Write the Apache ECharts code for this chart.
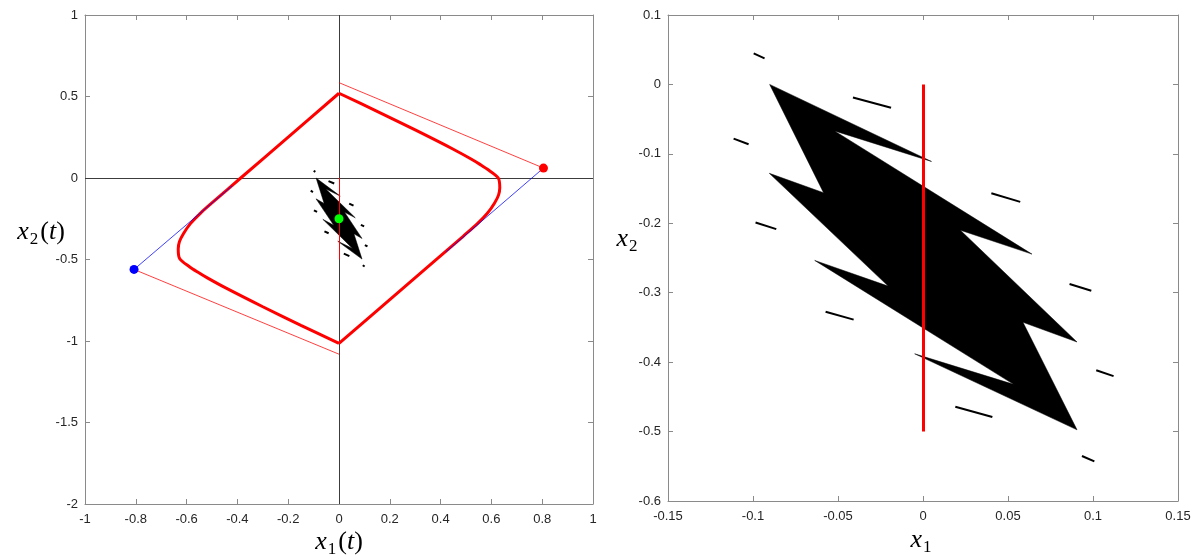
<!DOCTYPE html>
<html>
<head>
<meta charset="utf-8">
<script src="https://cdn.jsdelivr.net/npm/echarts@6/dist/echarts.min.js"></script>
<style>
html,body{margin:0;padding:0;background:#fff;}
#chart{width:1199px;height:560px;}
</style>
</head>
<body>
<div id="chart"></div>
<script>
// ---------- tick labels ----------
const leftXTicks = ['-1','-0.8','-0.6','-0.4','-0.2','0','0.2','0.4','0.6','0.8','1'];
const leftYTicks = ['-2','-1.5','-1','-0.5','0','0.5','1'];
const rightXTicks = ['-0.15','-0.1','-0.05','0','0.05','0.1','0.15'];
const rightYTicks = ['-0.6','-0.5','-0.4','-0.3','-0.2','-0.1','0','0.1'];

// ---------- left panel data ----------
// closed red trajectory, split at its two sharp vertices (top and bottom)
const redCurveLeft = [
  [0,0.52],[-0.2,0.251],[-0.387,0],[-0.49,-0.139],[-0.545,-0.215],[-0.585,-0.28],
  [-0.612,-0.34],[-0.628,-0.39],[-0.633,-0.435],[-0.627,-0.495],[-0.59,-0.5425],
  [-0.555,-0.5785],[-0.52,-0.6115],[-0.45,-0.6715],[-0.3,-0.79],[-0.15,-0.904],[0,-1.015]
];
const redCurveRight = [
  [0,-1.015],[0.2,-0.746],[0.387,-0.495],[0.49,-0.356],[0.545,-0.28],[0.585,-0.215],
  [0.612,-0.155],[0.628,-0.105],[0.633,-0.06],[0.627,0],[0.59,0.0475],
  [0.555,0.0835],[0.52,0.1165],[0.45,0.1765],[0.3,0.295],[0.15,0.409],[0,0.52]
];
// thin red tangent segments
const thinRedSegs = [
  [[0,0.585],[0.805,0.061]],
  [[-0.807,-0.561],[0,-1.081]]
];
// thin blue tangent segments
const thinBlueSegs = [
  [[-0.807,-0.561],[-0.42,-0.047]],
  [[0.805,0.061],[0.42,-0.455]]
];
// coordinate axes drawn through the origin
const originAxes = [
  [[0,-2],[0,1]],
  [[-1,0],[1,0]]
];
const greenPoint = [[0,-0.25]];
const redPoint = [[0.805,0.061]];
const bluePoint = [[-0.807,-0.561]];

// ---------- attractor (shared by both panels) ----------
const attractorPoly = [
  [-0.0902,0],[0.005,-0.111],[-0.052,-0.067],[0.0641,-0.2444],[0.022,-0.21],
  [0.0906,-0.371],[0.0588,-0.3426],[0.0906,-0.4975],[-0.0049,-0.388],
  [0.0533,-0.432],[-0.0637,-0.2535],[-0.0205,-0.2905],[-0.0904,-0.128],[-0.0585,-0.156]
];
const attractorSatellites = [
  [[-0.0996,0.0446],[-0.0932,0.0374]],
  [[-0.0412,-0.0187],[-0.0188,-0.0335]],
  [[-0.1114,-0.078],[-0.1026,-0.0862]],
  [[0.0402,-0.1567],[0.0572,-0.1692]],
  [[-0.0985,-0.1988],[-0.0863,-0.2084]],
  [[0.0862,-0.2875],[0.099,-0.2971]],
  [[-0.0573,-0.3273],[-0.0408,-0.3388]],
  [[0.1019,-0.4116],[0.1121,-0.4202]],
  [[0.019,-0.4643],[0.0408,-0.4791]],
  [[0.0935,-0.5352],[0.1008,-0.5429]]
];
const switchLine = [[0,0],[0,-0.5]];

// ---------- chart ----------
const chart = echarts.init(document.getElementById('chart'), null, {renderer:'canvas'});
const BOX = '#8a8a8a';
const TXT = '#262626';
const FONT = '"Liberation Sans", Arial, Helvetica, sans-serif';
const SERIF = '"Liberation Serif", "DejaVu Serif", serif';

function mkAxis(dim, grid, pos, min, max, interval, labels) {
  const show = (pos === 'bottom' || pos === 'left');
  return {
    type:'value', gridIndex:grid, position:pos, min:min, max:max, interval:interval,
    axisLine:{show:true, onZero:false, lineStyle:{color:BOX, width:1}},
    axisTick:{show:true, inside:true, length:5, lineStyle:{color:BOX, width:1}},
    splitLine:{show:false},
    axisLabel:{
      show:show, margin: dim==='x' ? 9 : 7, color:TXT, fontSize:13, fontFamily:FONT,
      showMinLabel:true, showMaxLabel:true,
      formatter: v => labels[Math.round((v - min) / interval)]
    }
  };
}

function segData(segs){ return segs.map(s => ({coords:s})); }

function polyRender(poly){
  return function(params, api){
    if (params.dataIndex !== 0) return null;
    return {
      type:'polygon',
      shape:{points: poly.map(p => api.coord(p))},
      style:{fill:'#000', stroke:'#000', lineWidth:0.5}
    };
  };
}

function rich(){
  return {
    i:{fontFamily:SERIF, fontStyle:'italic', fontSize:26, lineHeight:32, color:'#1a1a1a', verticalAlign:'middle'},
    n:{fontFamily:SERIF, fontSize:26, lineHeight:32, color:'#1a1a1a', verticalAlign:'middle'},
    s:{fontFamily:SERIF, fontSize:17, lineHeight:19, color:'#1a1a1a', verticalAlign:'bottom', padding:[0,2,0,1]}
  };
}

const curveStyle = {color:'#ff0000', width:3};

const option = {
  animation:false,
  backgroundColor:'#fff',
  grid:[
    {left:85, top:15, width:508, height:489},
    {left:668, top:15, width:510, height:486}
  ],
  xAxis:[
    mkAxis('x',0,'bottom',-1,1,0.2,leftXTicks),
    mkAxis('x',0,'top',-1,1,0.2,leftXTicks),
    mkAxis('x',1,'bottom',-0.15,0.15,0.05,rightXTicks),
    mkAxis('x',1,'top',-0.15,0.15,0.05,rightXTicks)
  ],
  yAxis:[
    mkAxis('y',0,'left',-2,1,0.5,leftYTicks),
    mkAxis('y',0,'right',-2,1,0.5,leftYTicks),
    mkAxis('y',1,'left',-0.6,0.1,0.1,rightYTicks),
    mkAxis('y',1,'right',-0.6,0.1,0.1,rightYTicks)
  ],
  graphic:[
    {type:'text', x:339, y:542, style:{text:'{i|x}{s|1}{n|(}{i|t}{n|)}', rich:rich(), align:'center', verticalAlign:'middle'}},
    {type:'text', x:41, y:232, style:{text:'{i|x}{s|2}{n|(}{i|t}{n|)}', rich:rich(), align:'center', verticalAlign:'middle'}},
    {type:'text', x:922, y:540, style:{text:'{i|x}{s|1}', rich:rich(), align:'center', verticalAlign:'middle'}},
    {type:'text', x:628, y:239, style:{text:'{i|x}{s|2}', rich:rich(), align:'center', verticalAlign:'middle'}}
  ],
  series:[
    // ----- left panel -----
    {type:'lines', coordinateSystem:'cartesian2d', xAxisIndex:0, yAxisIndex:0, silent:true,
     data:segData(originAxes), lineStyle:{color:'#3c3c3c', width:1, opacity:1}},
    {type:'line', xAxisIndex:0, yAxisIndex:0, data:redCurveLeft, showSymbol:false, symbol:'none',
     smooth:0.3, lineStyle:curveStyle, z:3},
    {type:'line', xAxisIndex:0, yAxisIndex:0, data:redCurveRight, showSymbol:false, symbol:'none',
     smooth:0.3, lineStyle:curveStyle, z:3},
    {type:'lines', coordinateSystem:'cartesian2d', xAxisIndex:0, yAxisIndex:0,
     data:segData(thinBlueSegs), lineStyle:{color:'#0000ff', width:1, opacity:0.75}, z:4},
    {type:'lines', coordinateSystem:'cartesian2d', xAxisIndex:0, yAxisIndex:0,
     data:segData(thinRedSegs), lineStyle:{color:'#ff0000', width:1, opacity:0.75}, z:4},
    {type:'custom', xAxisIndex:0, yAxisIndex:0, data:attractorPoly, renderItem:polyRender(attractorPoly), z:5},
    {type:'lines', coordinateSystem:'cartesian2d', xAxisIndex:0, yAxisIndex:0,
     data:segData(attractorSatellites), lineStyle:{color:'#000', width:2, opacity:1}, z:5},
    {type:'lines', coordinateSystem:'cartesian2d', xAxisIndex:0, yAxisIndex:0,
     data:segData([switchLine]), lineStyle:{color:'#ff0000', width:1, opacity:1}, z:6},
    {type:'scatter', xAxisIndex:0, yAxisIndex:0, data:greenPoint, symbolSize:9, itemStyle:{color:'#00ff00', opacity:1}, z:7},
    {type:'scatter', xAxisIndex:0, yAxisIndex:0, data:redPoint, symbolSize:9, itemStyle:{color:'#ff0000', opacity:1}, z:7},
    {type:'scatter', xAxisIndex:0, yAxisIndex:0, data:bluePoint, symbolSize:9, itemStyle:{color:'#0000ff', opacity:1}, z:7},
    // ----- right panel -----
    {type:'custom', xAxisIndex:2, yAxisIndex:2, data:attractorPoly, renderItem:polyRender(attractorPoly), z:5},
    {type:'lines', coordinateSystem:'cartesian2d', xAxisIndex:2, yAxisIndex:2,
     data:segData(attractorSatellites), lineStyle:{color:'#000', width:2, opacity:1}, z:5},
    {type:'lines', coordinateSystem:'cartesian2d', xAxisIndex:2, yAxisIndex:2,
     data:segData([switchLine]), lineStyle:{color:'#ff0000', width:3, opacity:1}, z:6}
  ]
};
chart.setOption(option);
</script>
</body>
</html>
